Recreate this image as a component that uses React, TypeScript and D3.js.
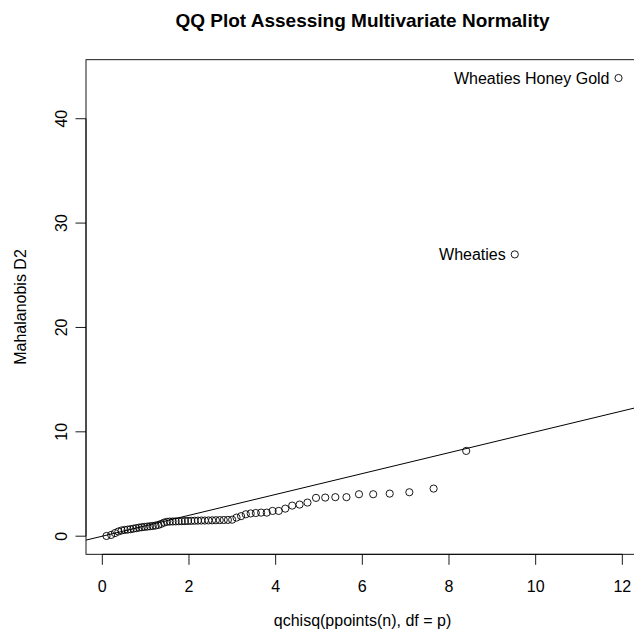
import React from "react";
import * as d3 from "d3";

// Theoretical chi-square quantiles (x) and sorted Mahalanobis D2 (y)
const chisqQuantiles: number[] = [
  0.096, 0.204, 0.292, 0.371, 0.445, 0.516, 0.584, 0.651, 0.717, 0.782,
  0.846, 0.910, 0.973, 1.037, 1.101, 1.164, 1.229, 1.293, 1.358, 1.424,
  1.490, 1.557, 1.625, 1.693, 1.763, 1.833, 1.905, 1.978, 2.053, 2.129,
  2.206, 2.285, 2.366, 2.449, 2.534, 2.621, 2.710, 2.803, 2.898, 2.996,
  3.097, 3.202, 3.311, 3.424, 3.542, 3.665, 3.794, 3.929, 4.071, 4.222,
  4.382, 4.552, 4.734, 4.931, 5.144, 5.377, 5.634, 5.923, 6.251, 6.632,
  7.085, 7.645, 8.397, 9.518, 11.912,
];
const mahalanobisD2: number[] = [
  0.02, 0.12, 0.30, 0.45, 0.55, 0.60, 0.63, 0.67, 0.72, 0.77,
  0.82, 0.86, 0.89, 0.92, 0.95, 0.98, 1.02, 1.08, 1.18, 1.30,
  1.38, 1.40, 1.41, 1.42, 1.43, 1.44, 1.45, 1.46, 1.47, 1.48,
  1.49, 1.50, 1.50, 1.51, 1.52, 1.53, 1.54, 1.55, 1.56, 1.58,
  1.78, 1.92, 2.10, 2.18, 2.22, 2.26, 2.26, 2.42, 2.42, 2.64,
  2.93, 3.03, 3.22, 3.67, 3.70, 3.74, 3.74, 4.02, 4.02, 4.08,
  4.21, 4.56, 8.17, 27.0, 43.9,
];
// names of the labelled (largest) points, in the same order as the tail of the data
const labelNames: string[] = ["Wheaties", "Wheaties Honey Gold"];

const xTicks: number[] = [0, 2, 4, 6, 8, 10, 12];
const yTicks: number[] = [0, 10, 20, 30, 40];
const titleText = "QQ Plot Assessing Multivariate Normality";
const xLabel = "qchisq(ppoints(n), df = p)";
const yLabel = "Mahalanobis D2";

const W = 634;
const H = 632;
const plotLeft = 86;
const plotRight = 639;
const plotTop = 59.7;
const plotBottom = 554.3;
const FONT = "'Liberation Sans', Arial, Helvetica, sans-serif";
const FS = 16;

function padded(values: number[]): [number, number] {
  const [lo, hi] = d3.extent(values) as [number, number];
  const pad = (hi - lo) * 0.04;
  return [lo - pad, hi + pad];
}

export default function App() {
  const x = d3.scaleLinear().domain(padded(chisqQuantiles)).range([plotLeft, plotRight]);
  const y = d3.scaleLinear().domain(padded(mahalanobisD2)).range([plotBottom, plotTop]);
  const points = chisqQuantiles.map((qx, i) => ({ qx, qy: mahalanobisD2[i] }));
  const nLab = labelNames.length;
  const labelled = points.slice(points.length - nLab).map((p, i) => ({ ...p, name: labelNames[i] }));
  const [xd0, xd1] = x.domain();
  const line = d3.line<[number, number]>().x((d) => x(d[0])).y((d) => y(d[1]));
  const refLine = line([[xd0, xd0], [xd1, xd1]]) || "";
  const stroke = "#000";
  const axisW = 0.9;
  const midX = (plotLeft + plotRight) / 2;
  const midY = (plotTop + plotBottom) / 2;

  return (
    <div style={{ position: "fixed", left: 0, top: 0, width: W, height: H, background: "#fff" }}>
      <svg width={W} height={H} style={{ display: "block" }} fontFamily={FONT}>
        <defs>
          <clipPath id="plotclip">
            <rect x={plotLeft} y={plotTop} width={plotRight - plotLeft} height={plotBottom - plotTop} />
          </clipPath>
        </defs>
        <rect width={W} height={H} fill="#fff" />
        <text x={midX} y={27} textAnchor="middle" fontSize={19} fontWeight="bold" fill="#000">
          {titleText}
        </text>
        {/* reference line y = x */}
        <path d={refLine} stroke="#000" strokeWidth={1} fill="none" clipPath="url(#plotclip)" />
        {/* points */}
        <g clipPath="url(#plotclip)">
          {points.map((p, i) => (
            <circle key={i} cx={x(p.qx)} cy={y(p.qy)} r={3.6} fill="none" stroke="#000" strokeWidth={0.9} />
          ))}
        </g>
        {labelled.map((p, i) => (
          <text key={i} x={x(p.qx) - 9} y={y(p.qy) + 5.5} textAnchor="end" fontSize={FS} fill="#000">
            {p.name}
          </text>
        ))}
        {/* box */}
        <rect
          x={plotLeft}
          y={plotTop}
          width={plotRight - plotLeft}
          height={plotBottom - plotTop}
          fill="none"
          stroke={stroke}
          strokeWidth={axisW}
        />
        {/* x axis */}
        <line x1={x(xTicks[0])} x2={x(xTicks[xTicks.length - 1])} y1={plotBottom} y2={plotBottom} stroke={stroke} strokeWidth={axisW} />
        {xTicks.map((t) => (
          <g key={t}>
            <line x1={x(t)} x2={x(t)} y1={plotBottom} y2={plotBottom + 10.5} stroke={stroke} strokeWidth={axisW} />
            <text x={x(t)} y={592} textAnchor="middle" fontSize={FS} fill="#000">
              {t}
            </text>
          </g>
        ))}
        {/* y axis */}
        <line x1={plotLeft} x2={plotLeft} y1={y(yTicks[0])} y2={y(yTicks[yTicks.length - 1])} stroke={stroke} strokeWidth={axisW} />
        {yTicks.map((t) => (
          <g key={t}>
            <line x1={plotLeft} x2={plotLeft - 10.5} y1={y(t)} y2={y(t)} stroke={stroke} strokeWidth={axisW} />
            <text transform={`translate(67,${y(t)}) rotate(-90)`} textAnchor="middle" fontSize={FS} fill="#000">
              {t}
            </text>
          </g>
        ))}
        <text x={midX} y={626} textAnchor="middle" fontSize={FS} fill="#000">
          {xLabel}
        </text>
        <text transform={`translate(26,${midY}) rotate(-90)`} textAnchor="middle" fontSize={FS} fill="#000">
          {yLabel}
        </text>
      </svg>
    </div>
  );
}
